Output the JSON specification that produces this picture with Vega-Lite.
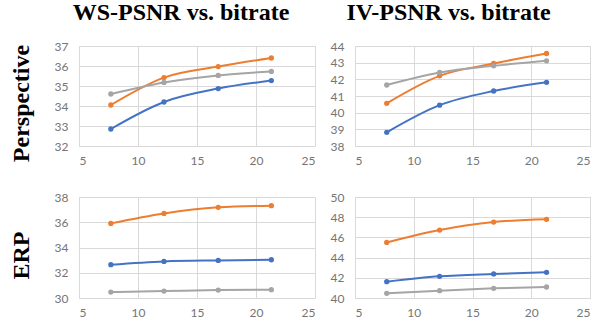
{
  "$schema": "https://vega.github.io/schema/vega-lite/v6.json",
  "padding": {"left": 8, "top": 0, "right": 4, "bottom": 2},
  "background": "white",
  "config": {
    "font": "Lato",
    "view": {"stroke": "#D9D9D9"},
    "axis": {
      "labelFont": "Lato", "labelFontSize": 12, "labelColor": "#757575",
      "ticks": false, "gridColor": "#D9D9D9", "domain": false,
      "titleFont": "Liberation Serif", "titleFontWeight": "bold", "titleFontSize": 24, "titleColor": "#000000"
    },
    "axisX": {"labelPadding": 9},
    "axisY": {"labelPadding": 11, "titlePadding": 21},
    "title": {"font": "Liberation Serif", "fontSize": 24, "fontWeight": "bold", "color": "#000000", "offset": 15}
  },
  "resolve": {"scale": {"x": "independent", "y": "independent"}},
  "datasets": {
    "psnr": [
      {"panel": "WS-P", "series": "S1", "bitrate": 7.7, "psnr": 32.85},
      {"panel": "WS-P", "series": "S1", "bitrate": 12.2, "psnr": 34.2},
      {"panel": "WS-P", "series": "S1", "bitrate": 16.8, "psnr": 34.87},
      {"panel": "WS-P", "series": "S1", "bitrate": 21.3, "psnr": 35.27},
      {"panel": "WS-P", "series": "S2", "bitrate": 7.7, "psnr": 34.05},
      {"panel": "WS-P", "series": "S2", "bitrate": 12.2, "psnr": 35.42},
      {"panel": "WS-P", "series": "S2", "bitrate": 16.8, "psnr": 35.97},
      {"panel": "WS-P", "series": "S2", "bitrate": 21.3, "psnr": 36.4},
      {"panel": "WS-P", "series": "S3", "bitrate": 7.7, "psnr": 34.6},
      {"panel": "WS-P", "series": "S3", "bitrate": 12.2, "psnr": 35.18},
      {"panel": "WS-P", "series": "S3", "bitrate": 16.8, "psnr": 35.53},
      {"panel": "WS-P", "series": "S3", "bitrate": 21.3, "psnr": 35.73},
      {"panel": "IV-P", "series": "S1", "bitrate": 7.7, "psnr": 38.82},
      {"panel": "IV-P", "series": "S1", "bitrate": 12.2, "psnr": 40.45},
      {"panel": "IV-P", "series": "S1", "bitrate": 16.8, "psnr": 41.3},
      {"panel": "IV-P", "series": "S1", "bitrate": 21.3, "psnr": 41.82},
      {"panel": "IV-P", "series": "S2", "bitrate": 7.7, "psnr": 40.56},
      {"panel": "IV-P", "series": "S2", "bitrate": 12.2, "psnr": 42.21},
      {"panel": "IV-P", "series": "S2", "bitrate": 16.8, "psnr": 42.95},
      {"panel": "IV-P", "series": "S2", "bitrate": 21.3, "psnr": 43.55},
      {"panel": "IV-P", "series": "S3", "bitrate": 7.7, "psnr": 41.66},
      {"panel": "IV-P", "series": "S3", "bitrate": 12.2, "psnr": 42.41},
      {"panel": "IV-P", "series": "S3", "bitrate": 16.8, "psnr": 42.81},
      {"panel": "IV-P", "series": "S3", "bitrate": 21.3, "psnr": 43.11},
      {"panel": "WS-E", "series": "S1", "bitrate": 7.7, "psnr": 32.64},
      {"panel": "WS-E", "series": "S1", "bitrate": 12.2, "psnr": 32.9},
      {"panel": "WS-E", "series": "S1", "bitrate": 16.8, "psnr": 32.98},
      {"panel": "WS-E", "series": "S1", "bitrate": 21.3, "psnr": 33.03},
      {"panel": "WS-E", "series": "S2", "bitrate": 7.7, "psnr": 35.91},
      {"panel": "WS-E", "series": "S2", "bitrate": 12.2, "psnr": 36.7},
      {"panel": "WS-E", "series": "S2", "bitrate": 16.8, "psnr": 37.18},
      {"panel": "WS-E", "series": "S2", "bitrate": 21.3, "psnr": 37.31},
      {"panel": "WS-E", "series": "S3", "bitrate": 7.7, "psnr": 30.47},
      {"panel": "WS-E", "series": "S3", "bitrate": 12.2, "psnr": 30.55},
      {"panel": "WS-E", "series": "S3", "bitrate": 16.8, "psnr": 30.63},
      {"panel": "WS-E", "series": "S3", "bitrate": 21.3, "psnr": 30.66},
      {"panel": "IV-E", "series": "S1", "bitrate": 7.7, "psnr": 41.62},
      {"panel": "IV-E", "series": "S1", "bitrate": 12.2, "psnr": 42.15},
      {"panel": "IV-E", "series": "S1", "bitrate": 16.8, "psnr": 42.38},
      {"panel": "IV-E", "series": "S1", "bitrate": 21.3, "psnr": 42.54},
      {"panel": "IV-E", "series": "S2", "bitrate": 7.7, "psnr": 45.5},
      {"panel": "IV-E", "series": "S2", "bitrate": 12.2, "psnr": 46.73},
      {"panel": "IV-E", "series": "S2", "bitrate": 16.8, "psnr": 47.52},
      {"panel": "IV-E", "series": "S2", "bitrate": 21.3, "psnr": 47.79},
      {"panel": "IV-E", "series": "S3", "bitrate": 7.7, "psnr": 40.46},
      {"panel": "IV-E", "series": "S3", "bitrate": 12.2, "psnr": 40.73},
      {"panel": "IV-E", "series": "S3", "bitrate": 16.8, "psnr": 40.96},
      {"panel": "IV-E", "series": "S3", "bitrate": 21.3, "psnr": 41.09}
    ]
  },
  "columns": 2,
  "bounds": "flush",
  "spacing": {"row": 51, "column": 40},
  "concat": [
    {
      "width": 236, "height": 100,
      "title": {"text": "WS-PSNR vs. bitrate", "dx": -16},
      "data": {"name": "psnr"},
      "transform": [{"filter": "datum.panel === 'WS-P'"}],
      "encoding": {
        "x": {"field": "bitrate", "type": "quantitative", "scale": {"domain": [5, 25]}, "axis": {"values": [5, 10, 15, 20, 25], "title": null}},
        "y": {"field": "psnr", "type": "quantitative", "scale": {"domain": [32, 37]}, "axis": {"values": [32, 33, 34, 35, 36, 37], "title": "Perspective", "titleY": 57}},
        "color": {"field": "series", "type": "nominal", "scale": {"domain": ["S1", "S2", "S3"], "range": ["#4472C4", "#ED7D31", "#A5A5A5"]}, "legend": null}
      },
      "layer": [
        {"mark": {"type": "line", "interpolate": "monotone", "strokeWidth": 2}},
        {"mark": {"type": "point", "filled": true, "size": 28, "opacity": 1}}
      ]
    },
    {
      "width": 235, "height": 100,
      "title": {"text": "IV-PSNR vs. bitrate", "dx": -24},
      "data": {"name": "psnr"},
      "transform": [{"filter": "datum.panel === 'IV-P'"}],
      "encoding": {
        "x": {"field": "bitrate", "type": "quantitative", "scale": {"domain": [5, 25]}, "axis": {"values": [5, 10, 15, 20, 25], "title": null}},
        "y": {"field": "psnr", "type": "quantitative", "scale": {"domain": [38, 44]}, "axis": {"values": [38, 39, 40, 41, 42, 43, 44], "title": null}},
        "color": {"field": "series", "type": "nominal", "scale": {"domain": ["S1", "S2", "S3"], "range": ["#4472C4", "#ED7D31", "#A5A5A5"]}, "legend": null}
      },
      "layer": [
        {"mark": {"type": "line", "interpolate": "monotone", "strokeWidth": 2}},
        {"mark": {"type": "point", "filled": true, "size": 28, "opacity": 1}}
      ]
    },
    {
      "width": 236, "height": 101,
      "data": {"name": "psnr"},
      "transform": [{"filter": "datum.panel === 'WS-E'"}],
      "encoding": {
        "x": {"field": "bitrate", "type": "quantitative", "scale": {"domain": [5, 25]}, "axis": {"values": [5, 10, 15, 20, 25], "title": null}},
        "y": {"field": "psnr", "type": "quantitative", "scale": {"domain": [30, 38]}, "axis": {"values": [30, 32, 34, 36, 38], "title": "ERP", "titleY": 58}},
        "color": {"field": "series", "type": "nominal", "scale": {"domain": ["S1", "S2", "S3"], "range": ["#4472C4", "#ED7D31", "#A5A5A5"]}, "legend": null}
      },
      "layer": [
        {"mark": {"type": "line", "interpolate": "monotone", "strokeWidth": 2}},
        {"mark": {"type": "point", "filled": true, "size": 28, "opacity": 1}}
      ]
    },
    {
      "width": 235, "height": 101,
      "data": {"name": "psnr"},
      "transform": [{"filter": "datum.panel === 'IV-E'"}],
      "encoding": {
        "x": {"field": "bitrate", "type": "quantitative", "scale": {"domain": [5, 25]}, "axis": {"values": [5, 10, 15, 20, 25], "title": null}},
        "y": {"field": "psnr", "type": "quantitative", "scale": {"domain": [40, 50]}, "axis": {"values": [40, 42, 44, 46, 48, 50], "title": null}},
        "color": {"field": "series", "type": "nominal", "scale": {"domain": ["S1", "S2", "S3"], "range": ["#4472C4", "#ED7D31", "#A5A5A5"]}, "legend": null}
      },
      "layer": [
        {"mark": {"type": "line", "interpolate": "monotone", "strokeWidth": 2}},
        {"mark": {"type": "point", "filled": true, "size": 28, "opacity": 1}}
      ]
    }
  ]
}
